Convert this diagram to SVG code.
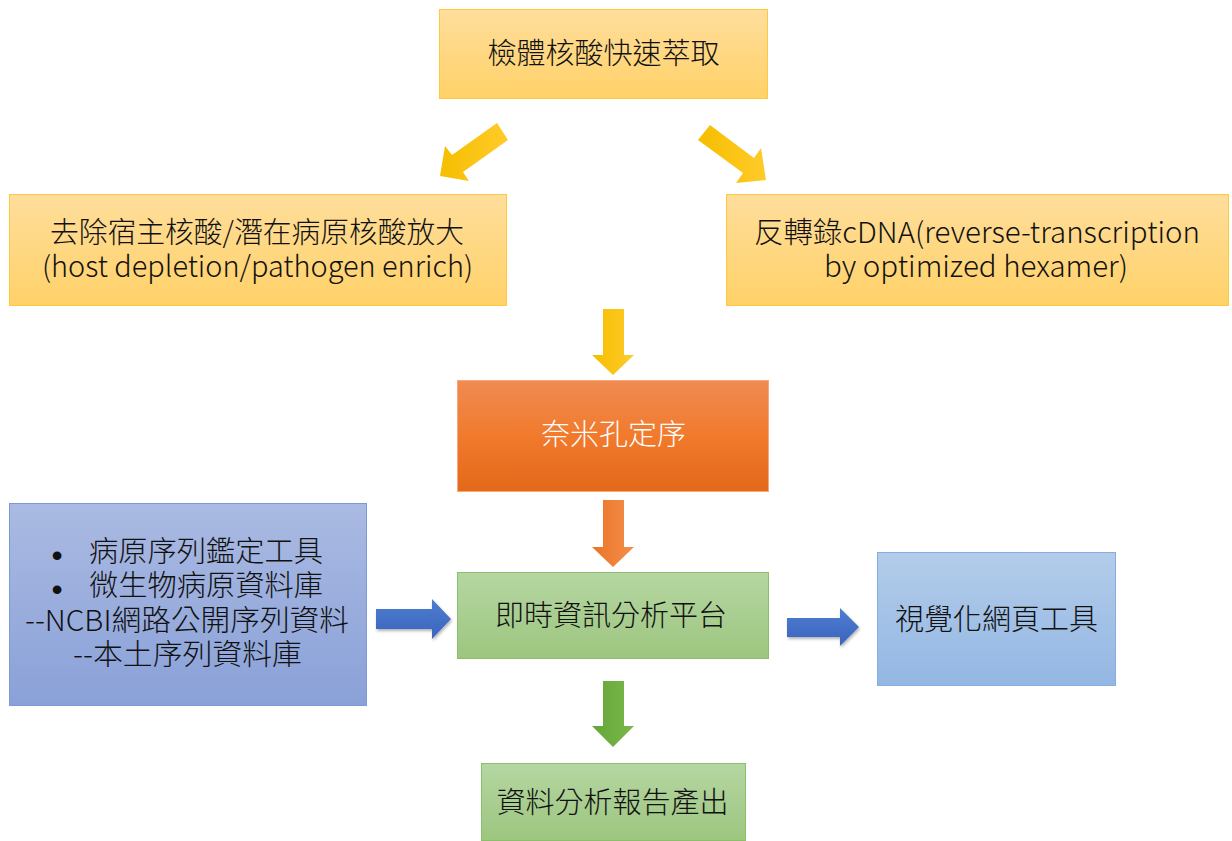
<svg xmlns="http://www.w3.org/2000/svg" width="1232" height="841" viewBox="0 0 1232 841">
<defs>
<linearGradient id="gY" x1="0" y1="0" x2="0" y2="1"><stop offset="0" stop-color="#FFDE9C"/><stop offset="1" stop-color="#FFD168"/></linearGradient>
<linearGradient id="gO" x1="0" y1="0" x2="0" y2="1"><stop offset="0" stop-color="#F08B52"/><stop offset="0.5" stop-color="#F17A2C"/><stop offset="1" stop-color="#E3681A"/></linearGradient>
<linearGradient id="gG" x1="0" y1="0" x2="0" y2="1"><stop offset="0" stop-color="#B5D6A2"/><stop offset="1" stop-color="#9DC67F"/></linearGradient>
<linearGradient id="gB1" x1="0" y1="0" x2="0" y2="1"><stop offset="0" stop-color="#AABAE2"/><stop offset="1" stop-color="#8AA1D8"/></linearGradient>
<linearGradient id="gB2" x1="0" y1="0" x2="0" y2="1"><stop offset="0" stop-color="#B3CCEA"/><stop offset="1" stop-color="#93B7E3"/></linearGradient>
<linearGradient id="aY" x1="0" y1="0" x2="1" y2="0"><stop offset="0" stop-color="#F5BE00"/><stop offset="1" stop-color="#FFCB2A"/></linearGradient>
<linearGradient id="aO" x1="0" y1="0" x2="1" y2="0"><stop offset="0" stop-color="#EB7328"/><stop offset="1" stop-color="#F4904B"/></linearGradient>
<linearGradient id="aG" x1="0" y1="0" x2="1" y2="0"><stop offset="0" stop-color="#65A636"/><stop offset="1" stop-color="#7AB74C"/></linearGradient>
<linearGradient id="aB" x1="0" y1="0" x2="0" y2="1"><stop offset="0" stop-color="#4E7DD0"/><stop offset="1" stop-color="#3A64BE"/></linearGradient>
<filter id="sh" x="-20%" y="-30%" width="150%" height="170%"><feDropShadow dx="1" dy="2" stdDeviation="1.5" flood-color="#000" flood-opacity="0.3"/></filter>
</defs>
<style>
.t{font-family:"Noto Sans CJK TC","Noto Sans CJK SC",sans-serif;font-size:29px;font-weight:300;fill:#111;text-anchor:middle}
.w{fill:#fff}
.bu{font-family:"Liberation Sans",Arial,sans-serif;font-size:32px}
.y{fill:url(#gY);stroke:#FFC83F;stroke-width:1}
.o{fill:url(#gO);stroke:#F5A879;stroke-width:1}
.g{fill:url(#gG);stroke:#8CBF6A;stroke-width:1}
.b1{fill:url(#gB1);stroke:#7C98D6;stroke-width:1}
.b2{fill:url(#gB2);stroke:#86AEE0;stroke-width:1}
</style>
<g id="connectors">
<polygon points="497,123 508,140 463,172 469,181 440,176 445,146 452,155" fill="url(#aY)"/>
<polygon points="710,125 754,158 761,148 766,180 736,183 743,173 698,140" fill="url(#aY)"/>
<polygon points="603,309 624,309 624,355 634,355 613,375 592,355 603,355" fill="url(#aY)"/>
<polygon points="603,500 624,500 624,547 634,547 613,567 592,547 603,547" fill="url(#aO)"/>
<polygon points="603,681 624,681 624,726 634,726 613,747 592,726 603,726" fill="url(#aG)"/>
<polygon points="376,609 432,609 432,599 451,619 432,639 432,629 376,629" fill="url(#aB)" filter="url(#sh)"/>
<polygon points="787,618 840,618 840,608 859,627 840,646 840,637 787,637" fill="url(#aB)" filter="url(#sh)"/>
</g>
<g id="extract">
<rect class="y" x="439.5" y="9.5" width="328" height="89"/>
<text class="t" x="603.5" y="64">檢體核酸快速萃取</text>
</g>
<g id="host-depletion">
<rect class="y" x="9.5" y="194.5" width="497" height="111"/>
<text class="t"><tspan x="257" y="243" textLength="414" lengthAdjust="spacingAndGlyphs">去除宿主核酸/潛在病原核酸放大</tspan><tspan x="257.5" y="277" textLength="431" lengthAdjust="spacingAndGlyphs">(host depletion/pathogen enrich)</tspan></text>
</g>
<g id="reverse-transcription">
<rect class="y" x="726.5" y="194.5" width="502" height="111"/>
<text class="t"><tspan x="977" y="243" textLength="446" lengthAdjust="spacingAndGlyphs">反轉錄cDNA(reverse-transcription</tspan><tspan x="976" y="277" textLength="304" lengthAdjust="spacingAndGlyphs">by optimized hexamer)</tspan></text>
</g>
<g id="nanopore">
<rect class="o" x="457.5" y="380.5" width="311" height="111"/>
<text class="t w" x="613.5" y="445">奈米孔定序</text>
</g>
<g id="realtime-platform">
<rect class="g" x="457.5" y="572.5" width="311" height="86"/>
<text class="t" x="611" y="626">即時資訊分析平台</text>
</g>
<g id="report">
<rect class="g" x="481.5" y="763.5" width="264" height="77"/>
<text class="t" x="612.5" y="813">資料分析報告產出</text>
</g>
<g id="databases">
<rect class="b1" x="9.5" y="503.5" width="357" height="202"/>
<text class="t"><tspan class="bu" x="57" y="566">•</tspan><tspan x="206" y="562" textLength="234" lengthAdjust="spacingAndGlyphs">病原序列鑑定工具</tspan><tspan class="bu" x="57" y="600">•</tspan><tspan x="206" y="596" textLength="234" lengthAdjust="spacingAndGlyphs">微生物病原資料庫</tspan><tspan x="187" y="631" textLength="324" lengthAdjust="spacingAndGlyphs">--NCBI網路公開序列資料</tspan><tspan x="187.5" y="665" textLength="229" lengthAdjust="spacingAndGlyphs">--本土序列資料庫</tspan></text>
</g>
<g id="visualization">
<rect class="b2" x="877.5" y="552.5" width="238" height="133"/>
<text class="t" x="996.5" y="630">視覺化網頁工具</text>
</g>
</svg>
